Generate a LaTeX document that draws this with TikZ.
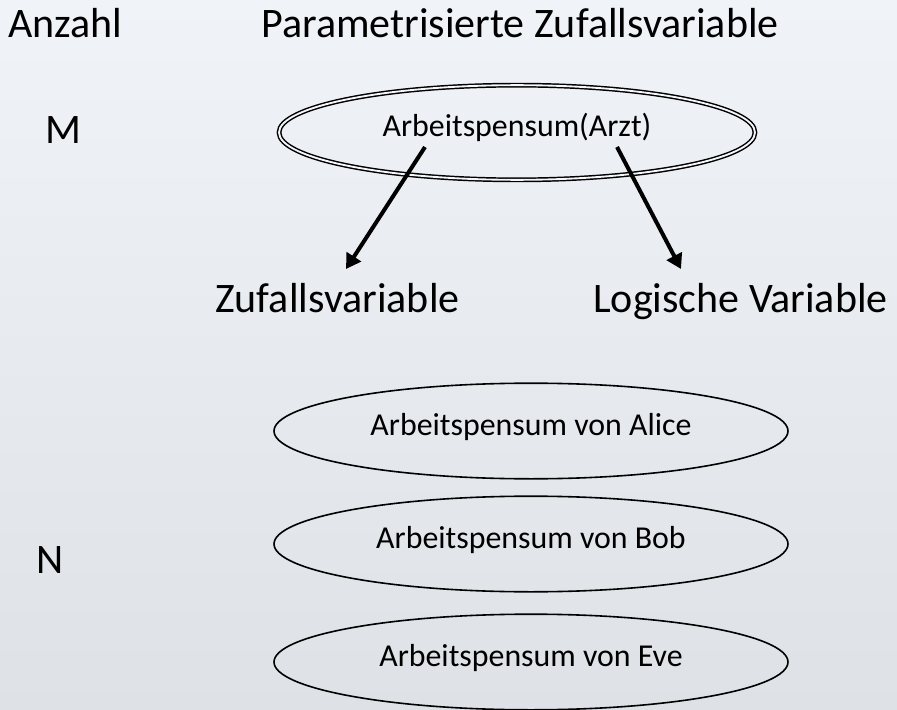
\documentclass[tikz,border=0pt]{standalone}
\usepackage{fontspec}
\setmainfont{Carlito}
\usetikzlibrary{shapes.geometric,arrows.meta}
\definecolor{bgtop}{HTML}{F0F3F8}
\definecolor{bgbottom}{HTML}{DEE1E5}
\definecolor{gapcol}{HTML}{F4F6F9}
\begin{document}
\begin{tikzpicture}[x=0.75pt,y=-0.75pt,
  heading/.style={inner sep=0pt,anchor=base west,font=\fontsize{31.5pt}{36pt}\selectfont},
  varell/.style={ellipse,draw=black,line width=1.2pt,inner sep=0pt,
    minimum width=385.5pt,minimum height=71.7pt,
    text height=0.9em,text depth=0.2em,font=\fontsize{23.9pt}{28pt}\selectfont},
  parell/.style={ellipse,draw=black,line width=1.1pt,double=gapcol,double distance=1.4pt,
    inner sep=0pt,minimum width=357pt,minimum height=71pt,
    text height=0.84em,text depth=0.2em,font=\fontsize{23.9pt}{28pt}\selectfont},
  pointer/.style={line width=3pt,-{Triangle[length=11pt,width=12.5pt]}}]
  % page and background
  \useasboundingbox (0,0) rectangle (897,710);
  \shade[top color=bgtop,bottom color=bgbottom] (0,0) rectangle (897,710);

  % column headings and counts
  \node[heading] (anzahl) at (8,38) {Anzahl};
  \node[heading] (prv) at (261,38) {Parametrisierte Zufallsvariable};
  \node[heading] (m) at (45,143) {M};
  \node[heading] (n) at (36,573) {N};

  % parametrised random variable
  \node[parell] (arzt) at (517,132.5) {Arbeitspensum(Arzt)};

  % explanation of its parts
  \node[heading] (zv) at (215,312) {Zufallsvariable};
  \node[heading] (lv) at (593,312) {Logische Variable};
  \coordinate (zvfrom) at (425,147);
  \coordinate (zvto) at (346,269);
  \coordinate (lvfrom) at (617,147);
  \coordinate (lvto) at (681,269);
  \draw[pointer] (zvfrom) -- (zvto);
  \draw[pointer] (lvfrom) -- (lvto);

  % ground random variables
  \node[varell] (alice) at (531,431) {Arbeitspensum von Alice};
  \node[varell] (bob) at (531,544) {Arbeitspensum von Bob};
  \node[varell] (eve) at (531,662) {Arbeitspensum von Eve};
\end{tikzpicture}
\end{document}
